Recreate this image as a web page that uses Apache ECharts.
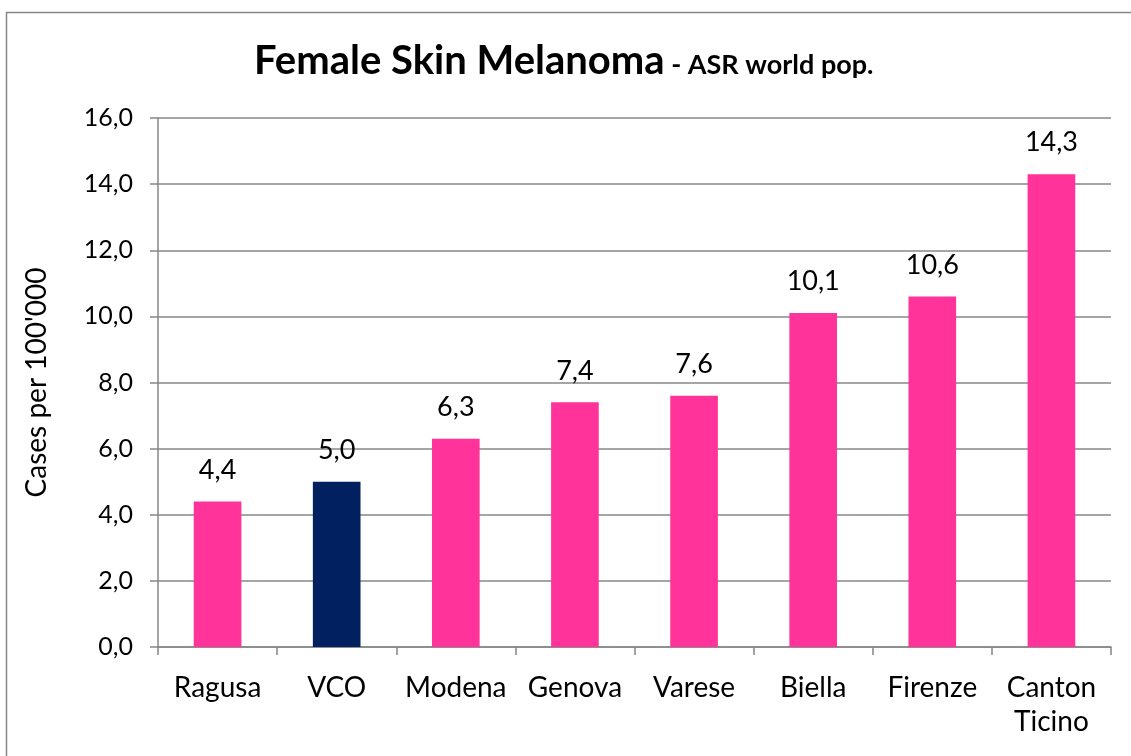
<!DOCTYPE html>
<html>
<head>
<meta charset="utf-8">
<script src="https://cdn.jsdelivr.net/npm/echarts@6/dist/echarts.min.js"></script>
<style>
  html, body { margin: 0; padding: 0; background: #fff; }
  #chart { width: 1131px; height: 756px; }
</style>
</head>
<body>
<div id="chart"></div>
<script>
// Female skin melanoma incidence, age-standardised rate (world population)
const categories = ['Ragusa', 'VCO', 'Modena', 'Genova', 'Varese', 'Biella', 'Firenze', 'Canton\nTicino'];
const rates = [4.4, 5.0, 6.3, 7.4, 7.6, 10.1, 10.6, 14.3];
const highlighted = 'VCO';
const yTicks = { min: 0, max: 16, interval: 2 };

const PINK = '#FF3399';
const NAVY = '#002060';
const AXIS = '#878787';
const FONT = 'Lato, "Open Sans", sans-serif';

const fmt = v => v.toFixed(1).replace('.', ',');

const chart = echarts.init(document.getElementById('chart'), null, { renderer: 'canvas' });

chart.setOption({
  animation: false,
  backgroundColor: '#fff',
  graphic: [{
    type: 'rect',
    shape: { x: 6.5, y: 12.5, width: 1140, height: 760 },
    style: { fill: 'none', stroke: AXIS, lineWidth: 1.5 },
    silent: true
  }],
  title: {
    text: '{a|Female Skin Melanoma}{b| - ASR world pop.}',
    left: 249,
    top: 36,
    textStyle: {
      rich: {
        a: { fontFamily: FONT, fontWeight: 'bold', fontSize: 40, color: '#000' },
        b: { fontFamily: FONT, fontWeight: 'bold', fontSize: 27, color: '#000', padding: [9, 0, 0, 0] }
      }
    }
  },
  grid: { left: 158, right: 20, top: 118, bottom: 109, containLabel: false },
  xAxis: {
    type: 'category',
    data: categories,
    axisLine: { lineStyle: { color: AXIS, width: 1.5 } },
    axisTick: { show: true, length: 8, alignWithLabel: false, lineStyle: { color: AXIS, width: 1.5 } },
    axisLabel: { color: '#000', fontFamily: FONT, fontSize: 28, margin: 24, lineHeight: 34, interval: 0 }
  },
  yAxis: {
    type: 'value',
    min: yTicks.min,
    max: yTicks.max,
    interval: yTicks.interval,
    name: "Cases per 100'000",
    nameLocation: 'middle',
    nameGap: 107,
    nameRotate: 90,
    nameTextStyle: { color: '#000', fontFamily: FONT, fontSize: 28 },
    axisLine: { show: true, lineStyle: { color: AXIS, width: 1.5 } },
    axisTick: { show: true, length: 8, lineStyle: { color: AXIS, width: 1.5 } },
    axisLabel: { color: '#000', fontFamily: FONT, fontSize: 25, margin: 25, formatter: fmt },
    splitLine: { show: true, lineStyle: { color: AXIS, width: 1.5 } }
  },
  series: [{
    type: 'bar',
    barWidth: '40%',
    data: rates.map((v, i) => ({
      value: v,
      itemStyle: { color: categories[i] === highlighted ? NAVY : PINK }
    })),
    label: {
      show: true,
      position: 'top',
      distance: 18,
      color: '#000',
      fontFamily: FONT,
      fontSize: 27,
      formatter: p => fmt(p.value)
    }
  }]
});
</script>
</body>
</html>
